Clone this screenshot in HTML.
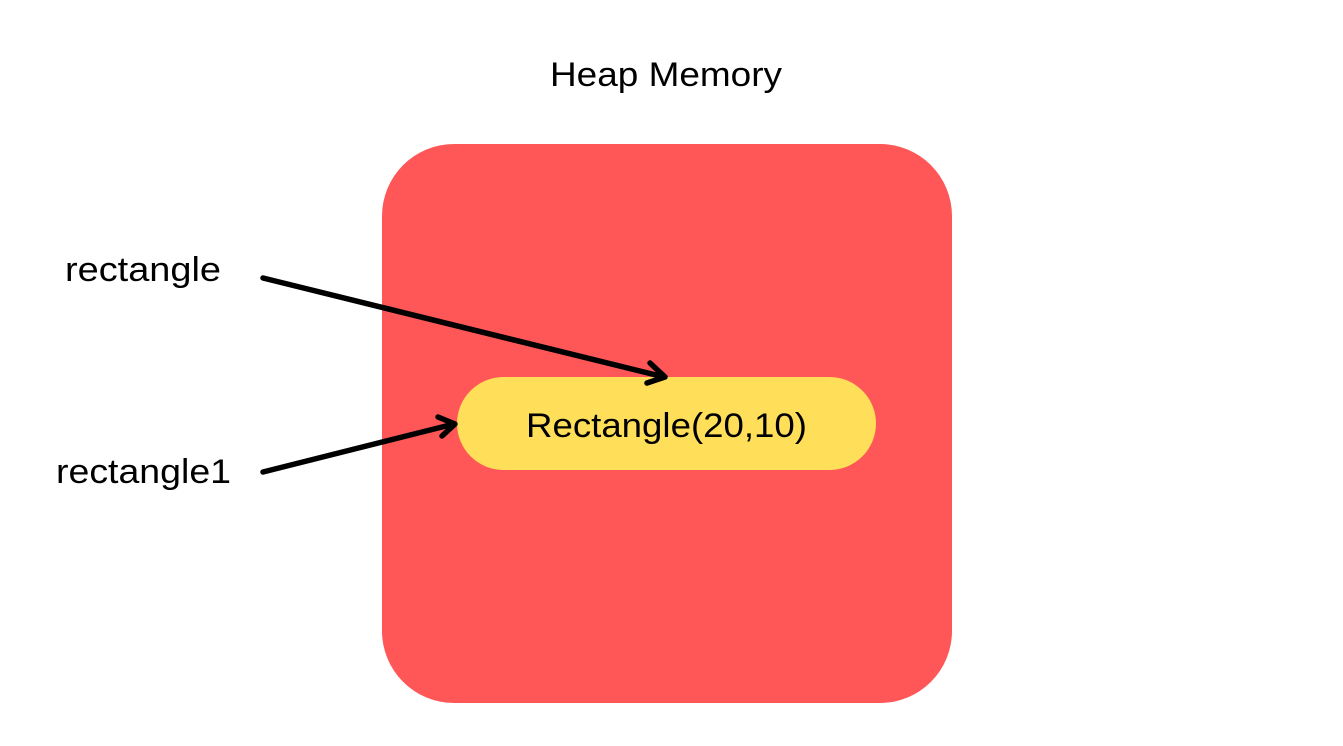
<!DOCTYPE html>
<html><head><meta charset="utf-8"><style>html,body{margin:0;padding:0;background:#fff;width:1343px;height:746px;overflow:hidden}</style></head>
<body>
<svg width="1343" height="746" viewBox="0 0 1343 746" xmlns="http://www.w3.org/2000/svg" font-family="Liberation Sans, sans-serif" font-size="34" fill="#000">
<rect x="382" y="144" width="570" height="559" rx="72" ry="72" fill="#FF5757"/>
<rect x="457" y="377" width="419" height="93" rx="46.5" ry="46.5" fill="#FFDE59"/>
<text x="550" y="86" textLength="232" lengthAdjust="spacingAndGlyphs">Heap Memory</text>
<text x="65" y="281" textLength="156" lengthAdjust="spacingAndGlyphs">rectangle</text>
<text x="56" y="483" textLength="175" lengthAdjust="spacingAndGlyphs">rectangle1</text>
<text x="526" y="437" textLength="281" lengthAdjust="spacingAndGlyphs">Rectangle(20,10)</text>
<g stroke="#000" stroke-width="5.5" stroke-linecap="round" stroke-linejoin="round" fill="none">
<line x1="263" y1="278" x2="664" y2="377"/>
<polyline points="650,363 665,377 647,383"/>
<line x1="263" y1="472" x2="454" y2="424"/>
<polyline points="438,417 455,424 442,436"/>
</g>
</svg>
</body></html>
